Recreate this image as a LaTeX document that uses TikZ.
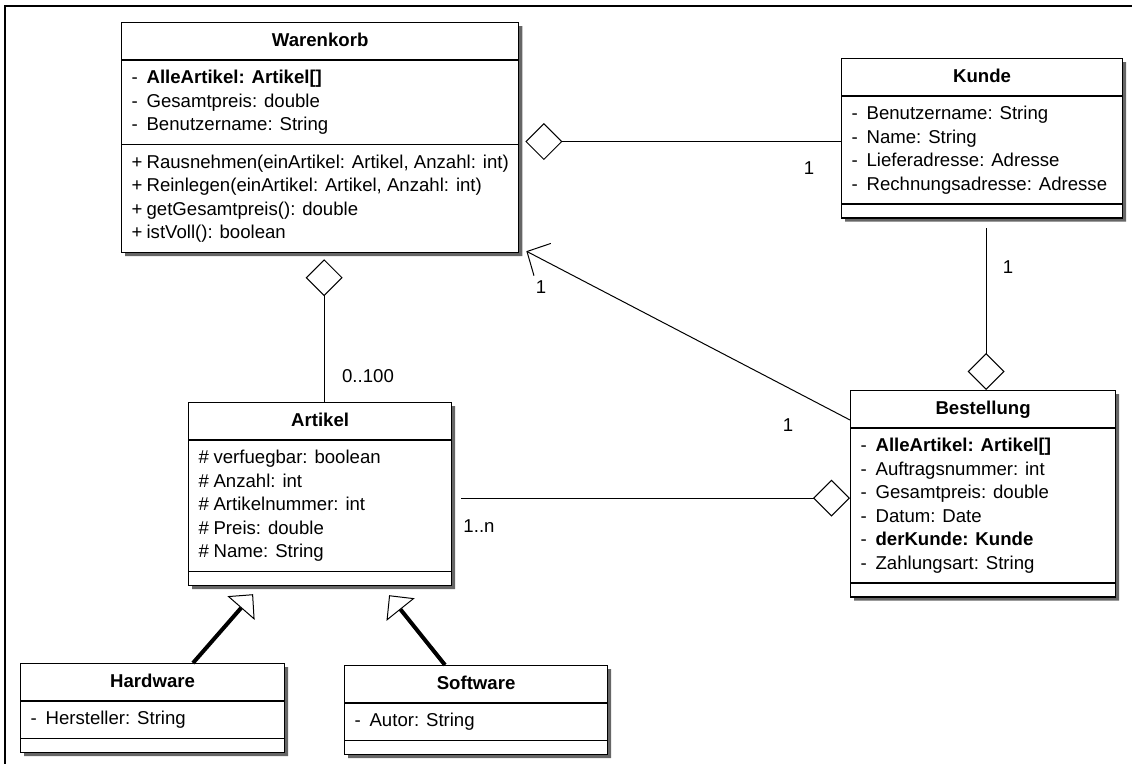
\documentclass[tikz,border=0pt]{standalone}
\usepackage{fontspec}
\setmainfont{Liberation Sans}
\usetikzlibrary{calc,shapes.multipart,shadows,arrows.meta}
\newcommand{\umlfont}{\fontsize{9.3}{11.75}\selectfont}
\newcommand{\vis}[1]{\makebox[7.5pt][l]{#1}}
\newcommand{\zeilen}[1]{\begin{tabular}{@{}l@{}}#1\end{tabular}}
\newcommand{\leer}{\rule{0.01pt}{0pt}}
\tikzset{umlclass/.style={draw,line width=0.6pt,fill=white,anchor=north west,
    rectangle split,rectangle split parts=3,
    rectangle split part align={center,left,left},
    inner xsep=5pt,inner ysep=3.2pt,minimum width=#1,
    drop shadow={shadow xshift=1.8pt,shadow yshift=-1.8pt,fill=black!60,opacity=1},
    font=\umlfont},umlclass/.default=130pt}
\tikzset{aggr/.style={line width=0.5pt,{Diamond[open,length=18.5pt,width=18.5pt]}-}}
\tikzset{nav/.style={line width=0.5pt,-{Straight Barb[length=8.7pt,width=18.2pt]}}}
\tikzset{inherit/.style={line width=2pt,-{Triangle[open,length=9.2pt,width=18pt,line width=0.5pt]}}}
\tikzset{mult/.style={inner sep=0pt,font=\umlfont}}

\begin{document}
\begin{tikzpicture}[x=0.5pt,y=-0.5pt]

	\useasboundingbox (0,0) rectangle (1132,764);

	% Rahmen
	\draw [line width=1pt] (1132,6) -- (5,6) -- (5,764);

	% Klasse "Warenkorb"
	\node [umlclass=198pt] (Warenkorb) at (121,22) {\textbf{Warenkorb}\strut
		\nodepart{two}\zeilen{\vis{-}\textbf{AlleArtikel: Artikel[]}\\
			\vis{-}Gesamtpreis: double\\
			\vis{-}Benutzername: String}
		\nodepart{three}\zeilen{\vis{+}Rausnehmen(einArtikel: Artikel, Anzahl: int)\\
			\vis{+}Reinlegen(einArtikel: Artikel, Anzahl: int)\\
			\vis{+}getGesamtpreis(): double\\
			\vis{+}istVoll(): boolean}};

	% Klasse "Kunde"
	\node [umlclass=140.5pt] (Kunde) at (841,58) {\textbf{Kunde}\strut
		\nodepart{two}\zeilen{\vis{-}Benutzername: String\\
			\vis{-}Name: String\\
			\vis{-}Lieferadresse: Adresse\\
			\vis{-}Rechnungsadresse: Adresse}
		\nodepart{three}\leer};

	% Klasse "Artikel"
	\node [umlclass=131.5pt] (Artikel) at (188,402) {\textbf{Artikel}\strut
		\nodepart{two}\zeilen{\vis{\#}verfuegbar: boolean\\
			\vis{\#}Anzahl: int\\
			\vis{\#}Artikelnummer: int\\
			\vis{\#}Preis: double\\
			\vis{\#}Name: String}
		\nodepart{three}\leer};

	% Klasse "Bestellung"
	\node [umlclass=132.5pt] (Bestellung) at (850,390) {\textbf{Bestellung}\strut
		\nodepart{two}\zeilen{\vis{-}\textbf{AlleArtikel: Artikel[]}\\
			\vis{-}Auftragsnummer: int\\
			\vis{-}Gesamtpreis: double\\
			\vis{-}Datum: Date\\
			\vis{-}\textbf{derKunde: Kunde}\\
			\vis{-}Zahlungsart: String}
		\nodepart{three}\leer};

	% Klassen "Hardware" und "Software"
	\node [umlclass=132pt] (Hardware) at (20,663) {\textbf{Hardware}\strut
		\nodepart{two}\zeilen{\vis{-}Hersteller: String}
		\nodepart{three}\leer};
	\node [umlclass=131.5pt] (Software) at (344,665) {\textbf{Software}\strut
		\nodepart{two}\zeilen{\vis{-}Autor: String}
		\nodepart{three}\leer};

	% Aggregation Warenkorb -- Kunde
	\draw [aggr] ($(Warenkorb.east)+(6,4)$) coordinate (wk) -- (wk -| Kunde.west);
	\node [mult] (m-kunde) at (809,168) {1};

	% Aggregation Warenkorb -- Artikel
	\draw [aggr] ($(Warenkorb.south)+(4,6)$) coordinate (wa) -- (wa |- Artikel.north);
	\node [mult] (m-artikel) at (368,376) {0..100};

	% Aggregation Bestellung -- Kunde
	\coordinate (kb) at ($(Kunde.south)+(4,9)$);
	\draw [aggr] (kb |- Bestellung.north) -- (kb);
	\node [mult] (m-bestkunde) at (1008,267) {1};

	% Aggregation Bestellung -- Artikel
	\coordinate (ab) at ($(Artikel.east)+(9,4)$);
	\draw [aggr] (ab -| Bestellung.west) -- (ab);
	\node [mult] (m-bestartikel) at (479,526) {1..n};

	% Navigierbare Assoziation Bestellung -> Warenkorb
	\draw [nav] ($(Bestellung.north west)+(0,30)$) -- ($(Warenkorb.south east)+(7,-2)$);
	\node [mult] (m-warenkorb) at (541,287) {1};
	\node [mult] (m-bestellung) at (788,425) {1};

	% Vererbung
	\draw [inherit] ($(Hardware.north west)+(173,0)$) -- ($(Artikel.south)+(-67,8)$);
	\draw [inherit] ($(Software.north west)+(101,0)$) -- ($(Artikel.south)+(69,9)$);

\end{tikzpicture}
\end{document}
